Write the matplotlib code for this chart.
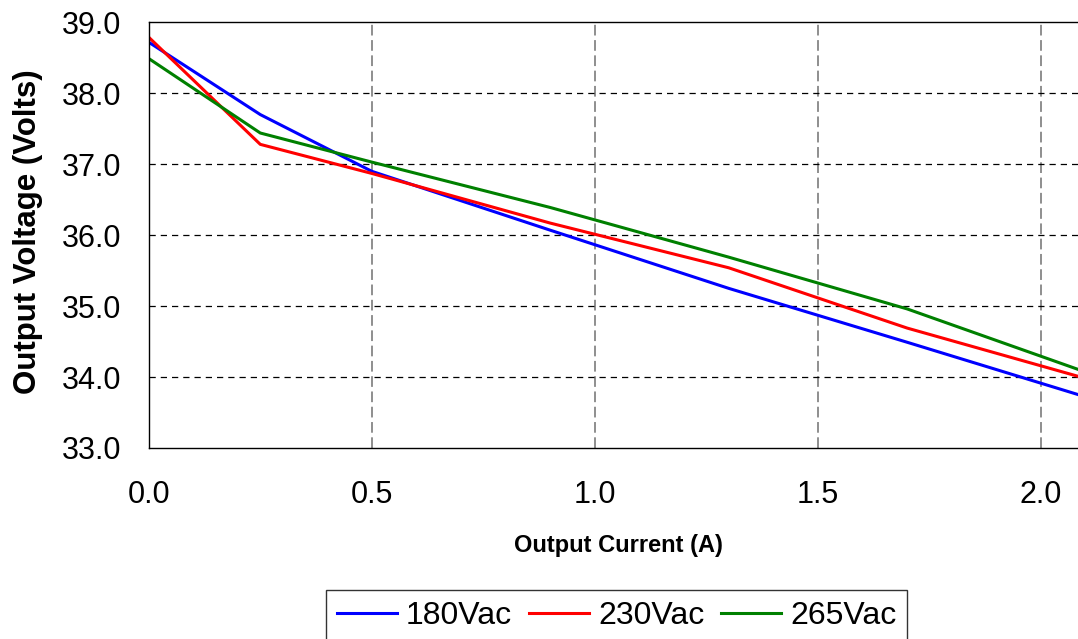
import matplotlib.pyplot as plt
import numpy as np

# output current (A) and output voltage (V) for each input line voltage
current = [0.0, 0.25, 0.5, 0.9, 1.3, 1.7, 2.1]
v_180 = [38.72, 37.70, 36.90, 36.07, 35.25, 34.49, 33.72]
v_230 = [38.79, 37.28, 36.87, 36.17, 35.54, 34.69, 33.98]
v_265 = [38.49, 37.44, 37.03, 36.39, 35.69, 34.96, 34.07]
labels = ['180Vac', '230Vac', '265Vac']
x_ticks = [0, 0.5, 1.0, 1.5, 2.0]
y_ticks = [33, 34, 35, 36, 37, 38, 39]

plt.rcParams['font.family'] = ['Liberation Sans', 'DejaVu Sans']

fig = plt.figure(figsize=(10.78, 6.39), dpi=100)
ax = fig.add_axes([0.138, 0.299, 0.862, 0.666])

ax.plot(current, v_180, color='#0000ff', lw=2.2, label=labels[0])
ax.plot(current, v_230, color='#ff0000', lw=2.2, label=labels[1])
ax.plot(current, v_265, color='#008000', lw=2.2, label=labels[2])

ax.set_xlim(0, 2.083)
ax.set_ylim(33, 39)
ax.set_xticks(x_ticks)
ax.set_yticks(y_ticks)
ax.xaxis.set_major_formatter(plt.FormatStrFormatter('%.1f'))
ax.yaxis.set_major_formatter(plt.FormatStrFormatter('%.1f'))
ax.tick_params(length=0, labelsize=22)
ax.tick_params(axis='x', pad=23)
ax.tick_params(axis='y', pad=20)

# grid: grey dashed verticals, black dashed horizontals
for v in x_ticks[1:]:
    ax.axvline(v, color='#707070', lw=1.1, ls=(0, (7, 3)), zorder=0)
for h in y_ticks[1:-1]:
    ax.axhline(h, color='black', lw=0.9, ls=(0, (5, 4)), zorder=0)

ax.spines['right'].set_visible(False)
for s in ['left', 'top', 'bottom']:
    ax.spines[s].set_linewidth(1.0)

ax.set_ylabel('Output Voltage (Volts)', fontsize=22.5, fontweight='bold')
ax.yaxis.set_label_coords(-0.114, 0.507)
ax.set_xlabel('Output Current (A)', fontsize=17, fontweight='bold')
ax.xaxis.set_label_coords(0.5056, -0.202)

leg = fig.legend(loc='upper center', bbox_to_anchor=(0.572, 0.0767), ncol=3, fontsize=23,
                 frameon=True, fancybox=False, edgecolor='black', handlelength=1.88,
                 handletextpad=0.28, columnspacing=0.53, borderpad=0.345, borderaxespad=0)
leg.get_frame().set_linewidth(1.0)

plt.savefig('out.png', dpi=100)
